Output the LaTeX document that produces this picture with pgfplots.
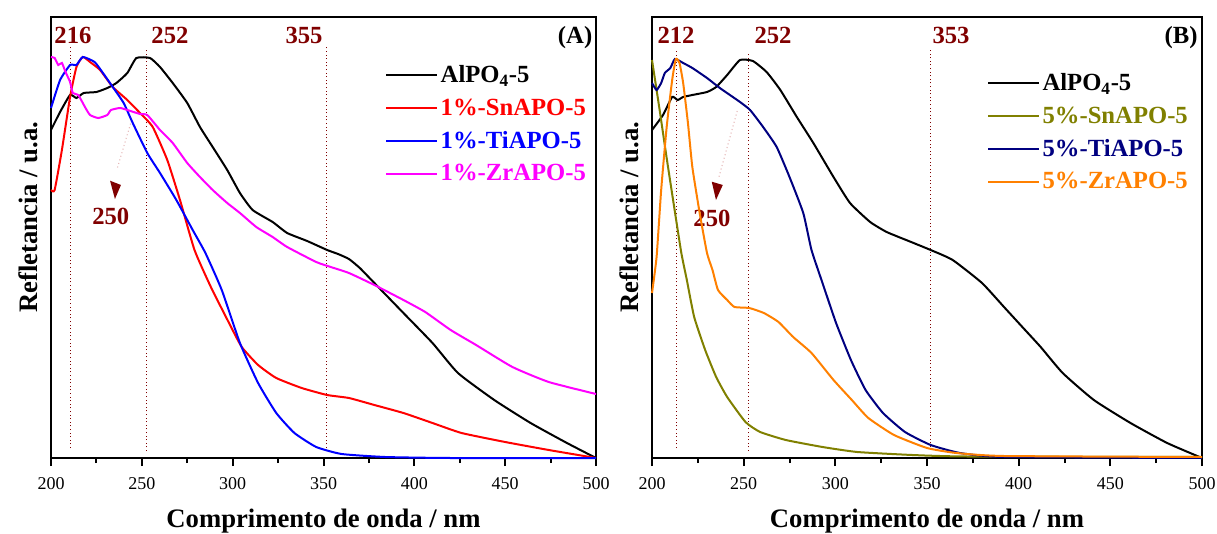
\documentclass[border=0pt]{standalone}
\usepackage{fontspec}
\setmainfont{Liberation Serif}
\usepackage{pgfplots}
\pgfplotsset{compat=1.18}
\definecolor{maroonA}{rgb}{0.5,0,0}
\definecolor{olivec}{rgb}{0.5,0.5,0}
\definecolor{navyc}{rgb}{0,0,0.5}
\definecolor{orangec}{rgb}{1,0.5,0}
\definecolor{magc}{rgb}{1,0,1}
\definecolor{redc}{rgb}{1,0,0}
\definecolor{bluec}{rgb}{0,0,1}
\definecolor{pinkdot}{rgb}{0.9,0.72,0.72}
\tikzset{
 vl/.style={maroonA, dotted, line width=0.7pt},
 ann/.style={text=maroonA, font=\fontsize{18.5}{22}\selectfont\bfseries},
 mjt/.style={black, line width=1.5pt},
}
\newcommand{\mkticks}{%
 \draw[mjt] (axis cs:200,0) -- ++(0pt,-6pt);
 \draw[mjt] (axis cs:250,0) -- ++(0pt,-6pt);
 \draw[mjt] (axis cs:300,0) -- ++(0pt,-6pt);
 \draw[mjt] (axis cs:350,0) -- ++(0pt,-6pt);
 \draw[mjt] (axis cs:400,0) -- ++(0pt,-6pt);
 \draw[mjt] (axis cs:450,0) -- ++(0pt,-6pt);
 \draw[mjt] (axis cs:500,0) -- ++(0pt,-6pt);
 \draw[mjt] (axis cs:225,0) -- ++(0pt,-3.75pt);
 \draw[mjt] (axis cs:275,0) -- ++(0pt,-3.75pt);
 \draw[mjt] (axis cs:325,0) -- ++(0pt,-3.75pt);
 \draw[mjt] (axis cs:375,0) -- ++(0pt,-3.75pt);
 \draw[mjt] (axis cs:425,0) -- ++(0pt,-3.75pt);
 \draw[mjt] (axis cs:475,0) -- ++(0pt,-3.75pt);
}
\pgfplotsset{
 myaxis/.style={
  scale only axis, height=330.75pt, xmin=200, xmax=500, ymin=0, ymax=441,
  clip=false,
  axis line style={line width=1.5pt},
  xtick={200,250,...,500}, minor xtick={225,275,...,475},
  xtick pos=left, tick align=outside,
  major tick length=6pt, minor tick length=3.75pt,
  tick style={line width=1.5pt, black, draw=black},
  ytick=\empty,
  tick label style={font=\fontsize{13.5}{16}\selectfont},
  xticklabel style={yshift=-5pt},
  /pgf/number format/assume math mode=true,
  xlabel={Comprimento de onda / nm}, ylabel={Refletancia / u.a.},
  label style={font=\fontsize{20}{24}\selectfont\bfseries},
  xlabel style={at={(axis description cs:0.5,-0.142)}, anchor=center},
  ylabel style={at={(axis description cs:-0.042,0.546)}, anchor=center},
  legend cell align=left,
  legend image code/.code={\draw[#1] (0pt,0pt) -- (38pt,0pt);},
  legend style={draw=none, fill=none, font=\fontsize{18.5}{22}\selectfont\bfseries, anchor=north west, inner sep=0pt, row sep=6.5pt},
  every axis plot/.append style={line width=1.5pt, smooth, tension=0.3},
 },
}
\begin{document}
\begin{tikzpicture}
\path[use as bounding box] (0,0) rectangle (912.75pt,399.75pt);
% ---------------- Panel A ----------------
\begin{axis}[myaxis, at={(38.25pt,56.25pt)}, anchor=south west, width=408.75pt,
  legend style={at={(axis description cs:0.613,0.896)}}]
\mkticks
\draw[vl] (axis cs:210.8,10) -- (axis cs:210.8,411);
\draw[vl] (axis cs:252.3,7) -- (axis cs:252.3,408);
\draw[vl] (axis cs:351.7,10) -- (axis cs:351.7,411);
\node[ann] at (axis cs:212.1,423) {216};
\node[ann] at (axis cs:265.5,423) {252};
\node[ann] at (axis cs:339.3,423) {355};
\node[font=\fontsize{18.5}{22}\selectfont\bfseries] at (axis cs:488.5,420) {(A)};
\draw[pinkdot, dotted, line width=0.8pt] (axis cs:244.4,338) -- (axis cs:236.2,288);
\fill[maroonA] (axis cs:232.5,277.3) -- (axis cs:238.5,273) -- (axis cs:235.2,259) -- cycle;
\node[ann] at (axis cs:232.9,242) {250};
\addplot[black] coordinates {(200,328) (205,346) (210.5,363) (214,360) (218,365) (225,366) (231,370) (236,375) (242,385) (247,400) (254.5,400) (260,391) (267,375) (275,355) (282,331) (289,311) (297,288) (304,265) (311,248) (322,236) (330,225) (341,217) (352,208) (358,204) (364,199) (370,190) (378,175) (394,145) (410,115) (424,85) (444,58) (464,35) (484,15) (500,0)};
\addlegendentry{AlPO\textsubscript{4}-5}
\addplot[redc] coordinates {(200,268) (202,268) (206,308) (210.5,361) (214,391) (217.5,401) (221.5,396) (227,388) (234,371) (242,358) (249,345) (256,331) (264,298) (271,258) (279,208) (288,171) (298,135) (305,111) (314,93) (324,80) (338,70) (352,63) (364,60) (378,53) (394,45) (410,35) (426,25) (450,16) (474,8) (500,0)};
\addlegendentry{\textcolor{redc}{1\%-SnAPO-5}}
\addplot[bluec] coordinates {(200,350) (205,378) (210.5,393) (214,393) (217.5,401) (224,396) (228.6,385) (234,371) (240,355) (245,335) (253,305) (260,285) (269,258) (278,228) (285,205) (294,168) (304,115) (314,75) (324,45) (334,25) (346,11) (360,4) (384,1) (420,0) (500,0)};
\addlegendentry{\textcolor{bluec}{1\%-TiAPO-5}}
\addplot[magc] coordinates {(200,401) (202,400) (204,393) (206,395) (208,386) (210.5,376) (212,365) (215,363) (219,350) (221.5,343) (226,340) (231,343) (233,348) (238,350) (242,348) (249,344) (253,343) (260,328) (267,315) (275,295) (282,281) (289,268) (297,255) (304,245) (313,231) (322,221) (330,211) (346,196) (354,191) (364,185) (378,173) (394,158) (406,146) (420,128) (434,113) (454,91) (474,76) (500,64)};
\addlegendentry{\textcolor{magc}{1\%-ZrAPO-5}}
\end{axis}
% ---------------- Panel B ----------------
\begin{axis}[myaxis, at={(489pt,56.25pt)}, anchor=south west, width=412.5pt,
  legend style={at={(axis description cs:0.609,0.878)}}]
\mkticks
\draw[vl] (axis cs:213.3,10) -- (axis cs:213.3,408);
\draw[vl] (axis cs:252.6,7) -- (axis cs:252.6,406);
\draw[vl] (axis cs:351.8,11) -- (axis cs:351.8,410);
\node[ann] at (axis cs:213.1,423) {212};
\node[ann] at (axis cs:266,423) {252};
\node[ann] at (axis cs:363.1,423) {353};
\node[font=\fontsize{18.5}{22}\selectfont\bfseries] at (axis cs:488.6,420) {(B)};
\draw[pinkdot, dotted, line width=0.8pt] (axis cs:246.5,347) -- (axis cs:236.5,281);
\fill[maroonA] (axis cs:232.6,276.3) -- (axis cs:238.6,273) -- (axis cs:234.9,258) -- cycle;
\node[ann] at (axis cs:232.7,240) {250};
\addplot[black] coordinates {(200,328) (206,343) (211,361) (214,358) (217,361) (222,363) (230,366) (235,371) (241,383) (248,398) (255,397) (262.5,386) (270,368) (279,341) (288,315) (299,281) (308,255) (319,236) (328,226) (340,217) (352,208) (364,198) (380,175) (392,151) (402,131) (412,111) (424,85) (441,58) (461,35) (481,15) (500,0)};
\addlegendentry{AlPO\textsubscript{4}-5}
\addplot[olivec] coordinates {(200,398) (204,350) (208,300) (212,252) (216,205) (219,178) (223,141) (229,108) (235,81) (241,61) (251,36) (259,26) (273,18) (293,11) (312,6) (342,3) (372,1.5) (500,1)};
\addlegendentry{\textcolor{olivec}{5\%-SnAPO-5}}
\addplot[navyc] coordinates {(200,375) (202.5,368) (205,375) (207,385) (210,390) (212.5,399) (217,395) (222,390) (230,380) (237,370) (242.5,363) (248,356) (253.5,348) (260.6,331) (268,311) (275,281) (282.5,245) (287,208) (293,175) (300.4,135) (308.5,98) (316.5,68) (326,45) (338,26) (352,13) (368,5) (392,1) (500,0)};
\addlegendentry{\textcolor{navyc}{5\%-TiAPO-5}}
\addplot[orangec] coordinates {(200,165) (202.5,201) (205,268) (208,331) (211,378) (213,399) (215,395) (217,375) (219.6,335) (222,291) (226,245) (230,205) (233,188) (236,168) (241,158) (245,151) (253,150) (261,145) (269,136) (277,121) (287,105) (299,78) (309,58) (318,40) (332,23) (350,10) (366,5) (392,2) (500,1)};
\addlegendentry{\textcolor{orangec}{5\%-ZrAPO-5}}
\end{axis}
\end{tikzpicture}
\end{document}
